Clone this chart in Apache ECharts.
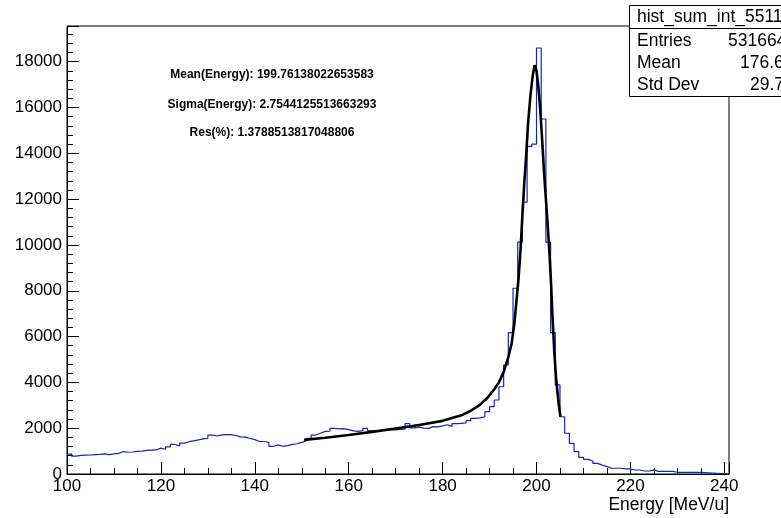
<!DOCTYPE html>
<html>
<head>
<meta charset="utf-8">
<script src="https://cdn.jsdelivr.net/npm/echarts@6/dist/echarts.min.js"></script>
<style>
  html, body { margin: 0; padding: 0; background: #fff; }
  #chart { width: 781px; height: 518px; }
</style>
</head>
<body>
<div id="chart"></div>
<script>
// histogram: 1 MeV bins, first bin starts at 100
const binStart = 100
const binWidth = 1
const counts = [
  870, 780, 810, 820, 830, 850, 860, 880, 850, 880,
  900, 980, 950, 960, 990, 1000, 1030, 1040, 1050, 1130,
  1080, 1180, 1290, 1230, 1350, 1410, 1450, 1490, 1530, 1560,
  1700, 1660, 1710, 1720, 1720, 1680, 1620, 1610, 1550, 1500,
  1420, 1420, 1380, 1210, 1270, 1210, 1240, 1290, 1320, 1380,
  1450, 1560, 1700, 1780, 1860, 1870, 1990, 1970, 1980, 1940,
  1880, 1860, 1890, 1990, 1900, 1880, 1920, 1900, 1940, 1930,
  1950, 1960, 2200, 2010, 2050, 2000, 1990, 2070, 2060, 2100,
  2150, 2080, 2200, 2210, 2230, 2330, 2430, 2450, 2500, 2720,
  2940, 3230, 3810, 4760, 6170, 8110, 10120, 11870, 14300, 14400,
  18600, 15500, 10120, 6170, 3890, 2500, 1780, 1340, 975, 730,
  640, 570, 465, 390, 320, 250, 250, 250, 220, 220,
  175, 175, 130, 130, 170, 115, 115, 115, 115, 75,
  75, 75, 75, 75, 75, 0
]

// fitted curve (black)
const fitE = [150.5, 155, 160, 165, 170, 175, 180, 184, 186, 188, 189.5, 191, 192, 193, 194, 194.7,
  195.3, 195.8, 196.2, 196.6, 197, 197.4, 197.8, 198.2, 198.7, 199.2, 199.6, 200, 200.4, 200.8,
  201.2, 201.6, 202, 202.4, 202.8, 203.1, 203.4, 203.8, 204.2, 204.7, 205.1]
const fitY = [1490, 1580, 1700, 1840, 1990, 2140, 2320, 2560, 2760, 3030, 3320, 3700, 4000, 4450, 5100, 5700,
  6600, 7700, 8600, 9800, 11300, 12700, 13900, 15300, 16500, 17400, 17850, 17600, 16900, 15900,
  14600, 13200, 12000, 10800, 9500, 8300, 6900, 5300, 4100, 3100, 2500]

const fitLines = [
  'Mean(Energy): 199.76138022653583',
  'Sigma(Energy): 2.7544125513663293',
  'Res(%): 1.3788513817048806'
]
const statsName = 'hist_sum_int_5511'
const statsRows = [['Entries', '531664'], ['Mean', '176.6'], ['Std Dev', '29.7']]

const FONT = "'Liberation Sans', Arial, Helvetica, sans-serif"

const histData = counts.map((c, i) => [binStart + i * binWidth, c])
histData.push([241, 0])
const fitData = fitE.map((e, i) => [e, fitY[i]])

const chart = echarts.init(document.getElementById('chart'), null, { renderer: 'canvas' })

const graphics = []
fitLines.forEach((t, i) => {
  graphics.push({ type: 'text', x: 272, y: [75, 105, 133][i], z: 10,
    style: { text: t, font: 'bold 12px ' + FONT, fill: '#000', textAlign: 'center', textVerticalAlign: 'middle' } })
})
// stats box
graphics.push({ type: 'rect', shape: { x: 629.5, y: 5.5, width: 200, height: 91 }, z: 10,
  style: { fill: '#fff', stroke: '#000', lineWidth: 1 } })
graphics.push({ type: 'line', shape: { x1: 629.5, y1: 28.5, x2: 781, y2: 28.5 }, z: 11,
  style: { stroke: '#000', lineWidth: 1 } })
graphics.push({ type: 'text', x: 637, y: 17, z: 11,
  style: { text: statsName, font: '17.5px ' + FONT, fill: '#000', textVerticalAlign: 'middle' } })
statsRows.forEach((r, i) => {
  const y = 41 + i * 22
  graphics.push({ type: 'text', x: 637, y: y, z: 11,
    style: { text: r[0], font: '17.5px ' + FONT, fill: '#000', textVerticalAlign: 'middle' } })
  graphics.push({ type: 'text', x: [728, 740, 750][i], y: y, z: 11,
    style: { text: r[1], font: '17.5px ' + FONT, fill: '#000', textVerticalAlign: 'middle' } })
})
graphics.push({ type: 'text', x: 729, y: 505, z: 10,
  style: { text: 'Energy [MeV/u]', font: '17.5px ' + FONT, fill: '#000', textAlign: 'right', textVerticalAlign: 'middle' } })

chart.setOption({
  animation: false,
  backgroundColor: '#fff',
  grid: { left: 67, right: 52, top: 26, bottom: 44, show: true, borderColor: '#000', borderWidth: 1, backgroundColor: 'transparent' },
  xAxis: {
    type: 'value', min: 100, max: 241, interval: 20,
    axisLine: { lineStyle: { color: '#000', width: 1 } },
    axisTick: { inside: true, length: 12, lineStyle: { color: '#000' } },
    minorTick: { show: true, splitNumber: 4, length: 6, lineStyle: { color: '#000' } },
    axisLabel: { color: '#000', fontSize: 17, fontFamily: FONT, margin: 4, showMaxLabel: false, formatter: v => String(v) },
    splitLine: { show: false }
  },
  yAxis: {
    type: 'value', min: 0, max: 19560, interval: 2000,
    axisLine: { show: true, lineStyle: { color: '#000', width: 1 } },
    axisTick: { show: true, inside: true, length: 12, lineStyle: { color: '#000' } },
    minorTick: { show: true, splitNumber: 5, length: 6, lineStyle: { color: '#000' } },
    axisLabel: { color: '#000', fontSize: 17, fontFamily: FONT, margin: 5, showMaxLabel: false, formatter: v => String(v) },
    splitLine: { show: false }
  },
  series: [
    { name: 'hist', type: 'line', step: 'end', data: histData, symbol: 'none',
      lineStyle: { color: '#1f1fb8', width: 1.2 }, z: 2 },
    { name: 'fit', type: 'line', data: fitData, symbol: 'none', smooth: false,
      lineStyle: { color: '#000', width: 2.6 }, z: 3 }
  ],
  graphic: graphics
})
</script>
</body>
</html>
